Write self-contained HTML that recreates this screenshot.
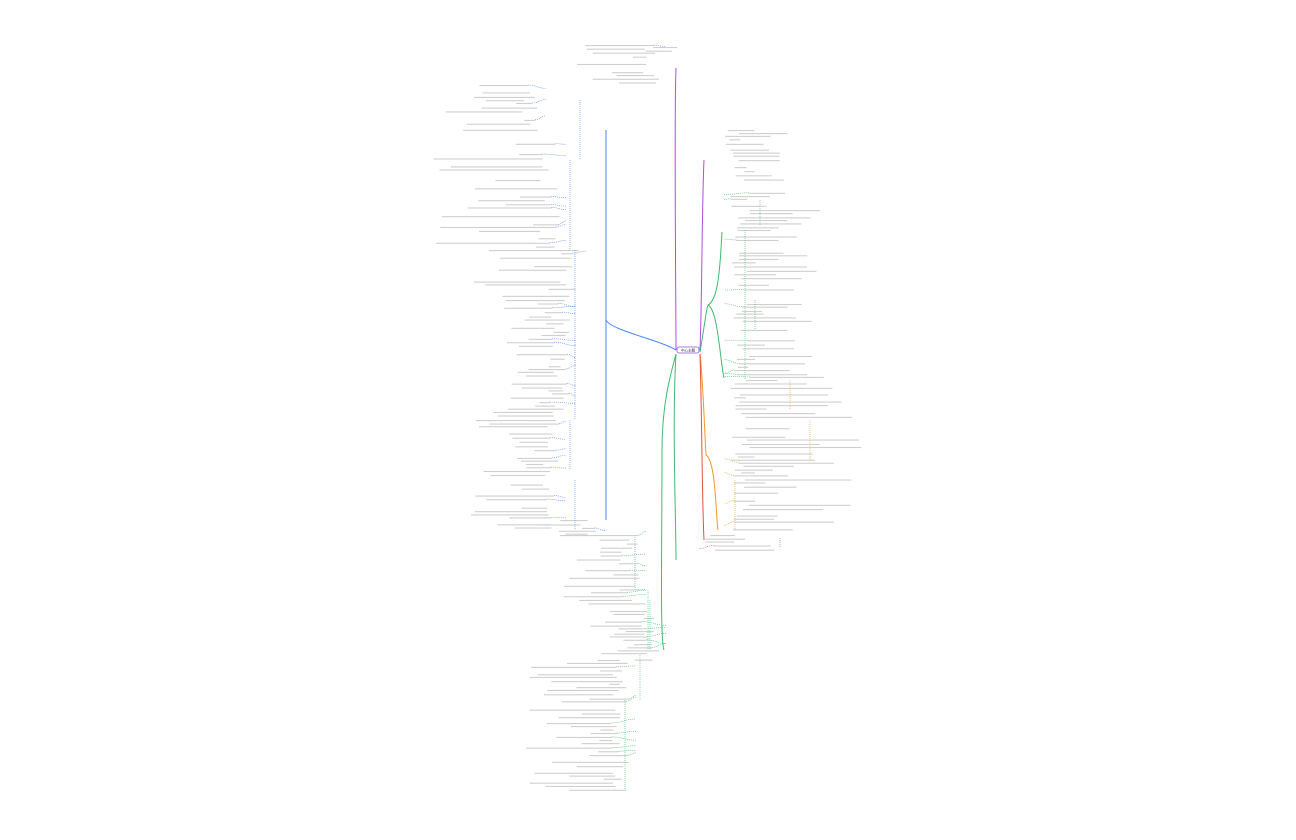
<!DOCTYPE html>
<html><head><meta charset="utf-8"><style>
html,body{margin:0;padding:0;background:#fff;width:1296px;height:840px;overflow:hidden;font-family:"Liberation Sans","Noto Sans CJK SC",sans-serif}
</style></head><body>
<svg id="s" width="1296" height="840" xmlns="http://www.w3.org/2000/svg">
<rect x="0" y="0" width="1296" height="840" fill="#fff"/>
<g fill="none" stroke-width="1">
<path d="M676,350 C676,300 674,120 676,68" stroke="#b04ce0"/>
<path d="M676,350 C660,340 610,330 606,320 L606,130" stroke="#4a86ef"/>
<path d="M606,320 L606,520" stroke="#4a86ef"/>
<path d="M676,354 C672,370 662,400 662,450 C662,550 660,640 664,650" stroke="#3dbb6e"/>
<path d="M676,354 C672,420 676,520 676,560" stroke="#3dbb6e"/>
<path d="M700,350 C702,300 702,200 704,160" stroke="#b04ce0"/>
<path d="M700,352 C704,330 706,310 708,305 C718,300 720,270 722,232" stroke="#3dbb6e"/>
<path d="M708,305 C718,310 720,360 724,378" stroke="#3dbb6e"/>
<path d="M700,354 C703,380 704,420 706,455 C716,460 716,520 718,530" stroke="#f39a1e"/>
<path d="M700,354 C702,420 702,500 704,540" stroke="#e8503a"/>
</g>
<g id="gen"></g>
<rect x="677" y="347" width="22" height="6" rx="2" fill="#fff" stroke="#8a5ad0" stroke-width="0.8"/>
<text x="688" y="351.5" font-size="3.5" text-anchor="middle" fill="#333">中心主题</text>
</svg>
<script>
var seed=7;function r(){seed=(seed*16807)%2147483647;return (seed-1)/2147483646;}
var g=document.getElementById('gen'),ns='http://www.w3.org/2000/svg';
function bar(x,y,w,c){var e=document.createElementNS(ns,'rect');e.setAttribute('x',x);e.setAttribute('y',y);e.setAttribute('width',w);e.setAttribute('height',1.1);e.setAttribute('fill',c);g.appendChild(e);}
function line(x1,y1,x2,y2,c){var e=document.createElementNS(ns,'path');e.setAttribute('d','M'+x1+','+y1+' C'+((x1+x2)/2)+','+y1+' '+((x1+x2)/2)+','+y2+' '+x2+','+y2);e.setAttribute('stroke',c);e.setAttribute('fill','none');e.setAttribute('stroke-width','0.6');e.setAttribute('stroke-dasharray','1,1');g.appendChild(e);}
// side: -1 left, 1 right
function region(xa,xb,y0,y1,side,c,dens){
 for(var y=y0;y<y1;y+=2.6+r()*2){
  if(r()>dens)continue;
  var w=10+r()*(xb-xa-10)*0.8;
  var x= side<0 ? xb-w-r()*20 : xa+r()*20;
  bar(x,y,w,'#cfcfcf');
  if(r()<0.25){line(side<0?x+w:x, y, side<0?xb+6:xa-6, y+(r()-0.5)*8, c);}
 }
}
// top purple
region(570,660,45,85,-1,'#b04ce0',0.8);
region(640,700,47,52,1,'#b04ce0',0.9);
// blue left
region(440,540,85,140,-1,'#4a86ef',0.85);
region(410,560,140,250,-1,'#4a86ef',0.7);
region(470,580,250,300,-1,'#4a86ef',0.8);
region(490,570,300,420,-1,'#4a86ef',0.9);
region(460,560,420,530,-1,'#4a86ef',0.8);
region(540,600,520,540,-1,'#4a86ef',0.8);
// blue sub-branch spines
[[580,100,160],[570,160,250],[575,250,300],[575,300,420],[570,420,470],[575,480,530],[635,535,590]].forEach(function(a){line(a[0],a[1],a[0],a[2],'#4a86ef');});
// green lower left
region(540,640,535,600,-1,'#3dbb6e',0.8);
region(590,660,600,660,-1,'#3dbb6e',0.8);
region(520,630,660,790,-1,'#3dbb6e',0.85);
[[648,590,650],[640,655,700],[625,700,790],[650,600,650]].forEach(function(a){line(a[0],a[1],a[0],a[2],'#3dbb6e');});
// right purple
region(725,790,130,185,1,'#b04ce0',0.7);
// right green
region(730,820,190,380,1,'#3dbb6e',0.75);
[[745,230,380],[760,200,225],[755,300,330]].forEach(function(a){line(a[0],a[1],a[0],a[2],'#3dbb6e');});
// right orange
region(730,870,380,530,1,'#f39a1e',0.7);
[[790,380,410],[735,480,530],[810,420,460]].forEach(function(a){line(a[0],a[1],a[0],a[2],'#f39a1e');});
// right red
region(705,800,535,550,1,'#e8503a',0.9);
line(780,538,780,548,'#e8503a');
</script>
</body></html>
